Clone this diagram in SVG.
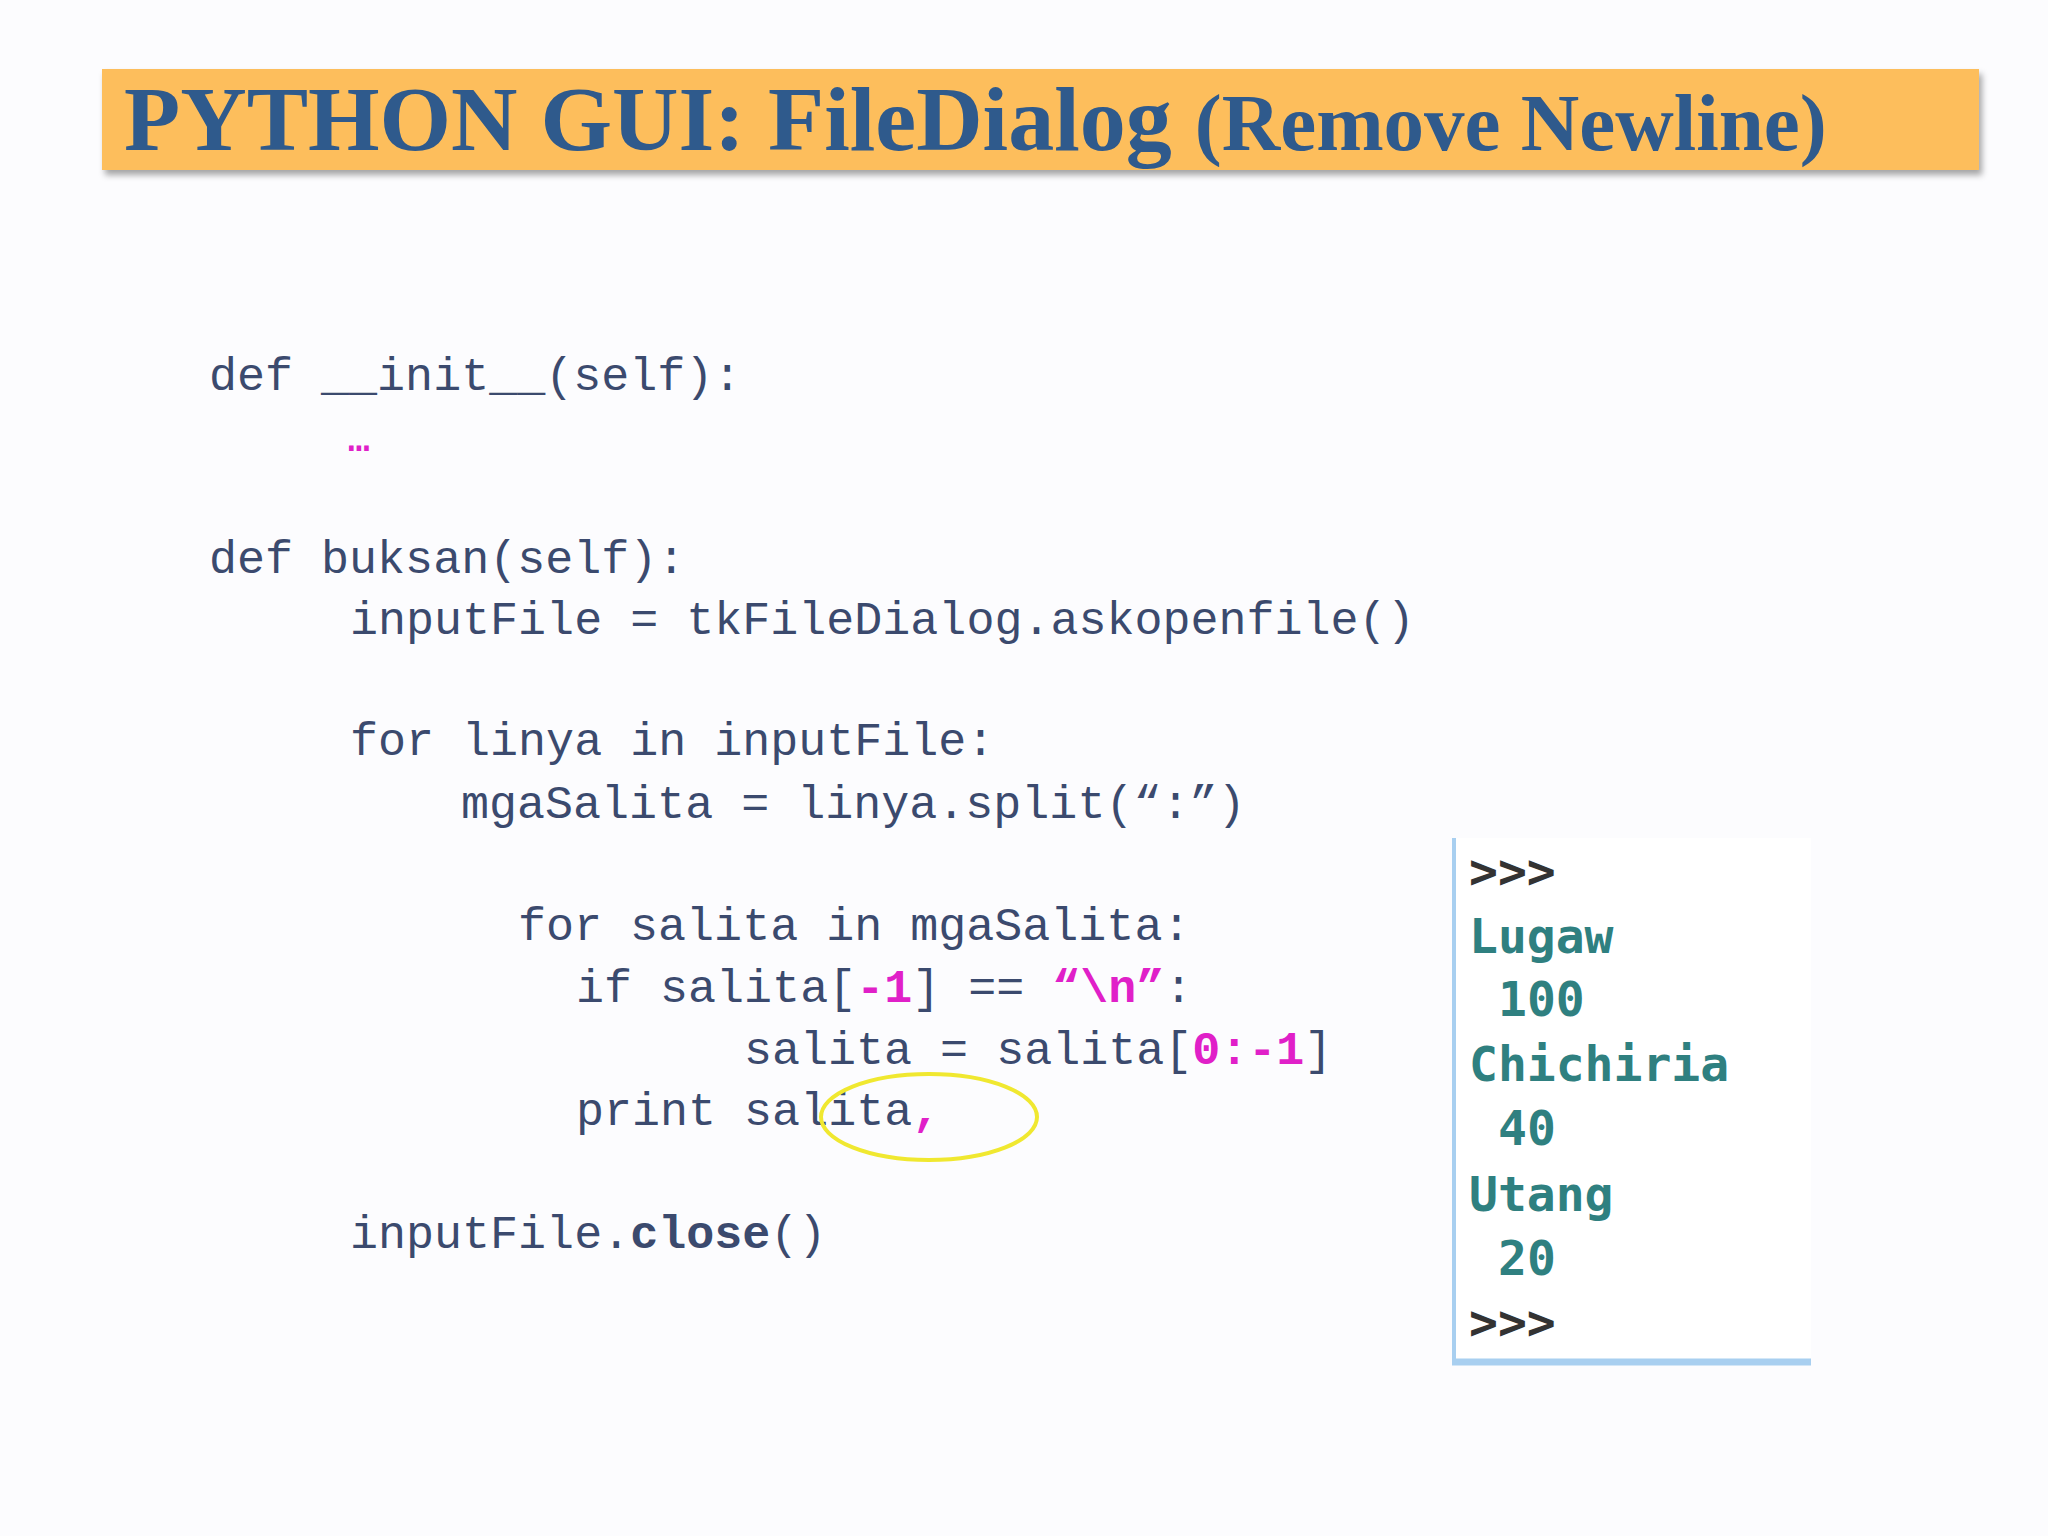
<svg xmlns="http://www.w3.org/2000/svg" width="2048" height="1536" viewBox="0 0 2048 1536">
<defs>
<style>
.c{font-family:"Liberation Mono","DejaVu Sans Mono",monospace;font-size:46.7px;fill:#3b4a6e}
.p{fill:#e020c8;font-weight:bold}
.b{font-weight:bold}
.k{font-family:"DejaVu Sans Mono",monospace;font-size:48px;fill:#2f8080;font-weight:bold}
.g{fill:#333}
</style>
<filter id="sh" x="-5%" y="-20%" width="110%" height="150%"><feDropShadow dx="3" dy="5" stdDeviation="3" flood-opacity="0.35"/></filter>
</defs>
<rect width="2048" height="1536" fill="#fcfcfe"/>
<g id="title">
<rect x="102" y="69" width="1877" height="101" fill="#fdbe5c" filter="url(#sh)"/>
<text x="124" y="150" font-family="Liberation Serif,serif" font-weight="bold" font-size="92" fill="#2f5a8c">PYTHON GUI: FileDialog <tspan font-size="81">(Remove Newline)</tspan></text>
</g>
<g id="code" class="c">
<text x="209" y="390">def __init__(self):</text>
<text x="348" y="451" class="p" font-size="36">…</text>
<text x="209" y="573">def buksan(self):</text>
<text x="350" y="634">inputFile = tkFileDialog.askopenfile()</text>
<text x="350" y="755">for linya in inputFile:</text>
<text x="461" y="818">mgaSalita = linya.split(“:”)</text>
<text x="518" y="940">for salita in mgaSalita:</text>
<text x="576" y="1002">if salita[<tspan class="p">-1</tspan>] == <tspan class="p">“\n”</tspan>:</text>
<text x="744" y="1064">salita = salita[<tspan class="p">0:-1</tspan>]</text>
<text x="576" y="1125">print salita<tspan class="p">,</tspan></text>
<text x="350" y="1248">inputFile.<tspan class="b">close</tspan>()</text>
</g>
<g id="highlight">
<ellipse cx="929" cy="1117" rx="108" ry="43" fill="none" stroke="#f0e830" stroke-width="4"/>
</g>
<g id="console">
<rect x="1452" y="838" width="359" height="527" fill="#ffffff"/>
<line x1="1454" y1="838" x2="1454" y2="1365" stroke="#a8cff0" stroke-width="4"/>
<line x1="1452" y1="1362" x2="1811" y2="1362" stroke="#a8cff0" stroke-width="7"/>
<g class="k">
<text x="1469" y="888" class="g">&gt;&gt;&gt;</text>
<text x="1469" y="953">Lugaw</text>
<text x="1498" y="1016">100</text>
<text x="1469" y="1081">Chichiria</text>
<text x="1498" y="1145">40</text>
<text x="1469" y="1211">Utang</text>
<text x="1498" y="1275">20</text>
<text x="1469" y="1339" class="g">&gt;&gt;&gt;</text>
</g>
</g>
</svg>
